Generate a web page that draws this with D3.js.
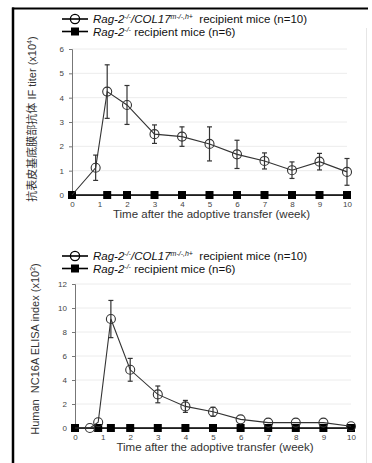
<!DOCTYPE html>
<html>
<head>
<meta charset="utf-8">
<script src="https://cdn.jsdelivr.net/npm/d3@7"></script>
<style>
  body { margin: 0; background: #fff; }
  svg { display: block; font-family: "Liberation Sans", Arial, "Noto Sans CJK SC", sans-serif; }
</style>
</head>
<body>
<script>
// ---- data: panel 1 (IF titer) ----
const weeksA = [0, 0.86, 1.28, 2, 3, 4, 5, 6, 7, 8, 9, 10];
const col17Titer = [0, 1.12, 4.25, 3.7, 2.5, 2.4, 2.1, 1.67, 1.4, 1.02, 1.37, 0.95];
const col17TiterErr = [0, 0.52, 1.1, 0.8, 0.38, 0.4, 0.7, 0.58, 0.33, 0.34, 0.34, 0.55];
const ragWeeksA = [0, 1.28, 2, 3, 4, 5, 6, 7, 8, 9, 10];
const ragTiter = [0, 0, 0, 0, 0, 0, 0, 0, 0, 0, 0];

// ---- data: panel 2 (ELISA index) ----
const weeksB = [0, 0.54, 0.84, 1.3, 2, 3, 4, 5, 6, 7, 8, 9, 10];
const col17Elisa = [0, 0, 0.48, 9.08, 4.85, 2.8, 1.8, 1.35, 0.72, 0.45, 0.45, 0.45, 0.15];
const col17ElisaErr = [0, 0, 0, 1.55, 0.95, 0.7, 0.5, 0.38, 0, 0, 0, 0, 0];
const ragWeeksB = [0, 0.84, 1.3, 2, 3, 4, 5, 6, 7, 8, 9, 10];
const ragElisa = [0, 0, 0, 0, 0, 0, 0, 0, 0, 0, 0, 0];

const xTicks = [0, 1, 2, 3, 4, 5, 6, 7, 8, 9, 10];
const yTicksA = [0, 1, 2, 3, 4, 5, 6];
const yTicksB = [0, 2, 4, 6, 8, 10, 12];
const xTitle = "Time after the adoptive transfer (week)";

const W = 372, H = 463;
const svg = d3.select("body").append("svg").attr("width", W).attr("height", H);

// outer frame
svg.append("line").attr("x1", 12).attr("x2", 368).attr("y1", 8.5).attr("y2", 8.5)
  .attr("stroke", "#000").attr("stroke-width", 2);
svg.append("line").attr("x1", 13).attr("x2", 13).attr("y1", 7.5).attr("y2", H)
  .attr("stroke", "#000").attr("stroke-width", 2.5);
svg.append("line").attr("x1", 366.5).attr("x2", 366.5).attr("y1", 28).attr("y2", H)
  .attr("stroke", "#e6e6e6").attr("stroke-width", 1);

function legend(y0, n1, n2) {
  const g = svg.append("g");
  const rows = [
    { y: y0, sym: "circle", n: n1, col17: true },
    { y: y0 + 12.5, sym: "square", n: n2, col17: false }
  ];
  rows.forEach(r => {
    g.append("line").attr("x1", 62).attr("x2", 88).attr("y1", r.y).attr("y2", r.y)
      .attr("stroke", "#000").attr("stroke-width", 1.6);
    if (r.sym === "circle") {
      g.append("circle").attr("cx", 75).attr("cy", r.y).attr("r", 4.6)
        .attr("fill", "none").attr("stroke", "#000").attr("stroke-width", 1.3);
    } else {
      g.append("rect").attr("x", 71).attr("y", r.y - 4).attr("width", 8).attr("height", 8)
        .attr("fill", "#000");
    }
    const t = g.append("text").attr("x", 93).attr("y", r.y + 4)
      .attr("font-size", 11.5).attr("fill", "#111");
    t.append("tspan").attr("font-style", "italic").text("Rag-2");
    t.append("tspan").attr("font-style", "italic").attr("font-size", 7).attr("dy", -4).text("-/-");
    if (r.col17) {
      t.append("tspan").attr("font-style", "italic").attr("dy", 4).text("/COL17");
      t.append("tspan").attr("font-style", "italic").attr("font-size", 7).attr("dy", -4).text("m-/-,h+");
      t.append("tspan").attr("dy", 4).text("\u00a0 recipient mice (n=" + r.n + ")");
    } else {
      t.append("tspan").attr("dy", 4).text(" recipient mice (n=" + r.n + ")");
    }
  });
}

function panel(cfg) {
  const x = d3.scaleLinear().domain([0, 10]).range(cfg.xr);
  const y = d3.scaleLinear().domain(cfg.yd).range(cfg.yr);
  const g = svg.append("g");

  // gridlines
  g.selectAll(".grid").data(cfg.yTicks.slice(1)).join("line")
    .attr("x1", cfg.xr[0]).attr("x2", cfg.xr[1])
    .attr("y1", d => y(d)).attr("y2", d => y(d))
    .attr("stroke", "#ececec").attr("stroke-width", 1);

  // y axis
  const ya = g.append("g").attr("transform", `translate(${cfg.xr[0]},0)`)
    .call(d3.axisLeft(y).tickValues(cfg.yTicks).tickFormat(d3.format("d")).tickSize(3).tickPadding(5));
  ya.select(".domain").attr("stroke", "#777");
  ya.selectAll(".tick line").attr("stroke", "#777");
  ya.selectAll("text").attr("font-size", 8).attr("fill", "#444")
    .attr("font-family", "Liberation Sans, Arial, sans-serif");

  // x axis labels
  const xa = g.append("g").attr("transform", `translate(0,${cfg.yr[0]})`)
    .call(d3.axisBottom(x).tickValues(xTicks).tickFormat(d3.format("d")).tickSize(0).tickPadding(6));
  xa.select(".domain").attr("stroke", "#777");
  xa.selectAll("text").attr("font-size", 8).attr("fill", "#444")
    .attr("font-family", "Liberation Sans, Arial, sans-serif");

  // axis titles
  g.append("text").attr("x", (cfg.xr[0] + cfg.xr[1]) / 2 + 2).attr("y", cfg.yr[0] + 23)
    .attr("text-anchor", "middle").attr("font-size", 11.5).attr("fill", "#333").text(xTitle);
  const yt = g.append("text")
    .attr("transform", `translate(${cfg.ytx},${cfg.ytY}) rotate(-90)`)
    .attr("text-anchor", "middle").attr("font-size", 11).attr("fill", "#333");
  cfg.yTitle(yt);

  // Rag-2 series (squares)
  const rag = cfg.ragW.map((w, i) => [w, cfg.ragV[i]]);
  g.append("path").datum(rag)
    .attr("d", d3.line().x(d => x(d[0])).y(d => y(d[1])))
    .attr("fill", "none").attr("stroke", "#000").attr("stroke-width", 1.3);
  g.selectAll(".sq").data(rag).join("rect")
    .attr("x", d => x(d[0]) - 4).attr("y", d => y(d[1]) - 4)
    .attr("width", 8).attr("height", 8).attr("fill", "#000");

  // COL17 series (open circles + error bars)
  const col = cfg.colW.map((w, i) => ({ w, v: cfg.colV[i], e: cfg.colE[i] }));
  g.selectAll(".eb").data(col.filter(d => d.e > 0)).join("g").each(function (d) {
    const s = d3.select(this), cx = x(d.w);
    s.append("line").attr("x1", cx).attr("x2", cx).attr("y1", y(d.v + d.e)).attr("y2", y(d.v - d.e))
      .attr("stroke", "#333").attr("stroke-width", 1.2);
    [d.v + d.e, d.v - d.e].forEach(v => s.append("line")
      .attr("x1", cx - 2.5).attr("x2", cx + 2.5).attr("y1", y(v)).attr("y2", y(v))
      .attr("stroke", "#333").attr("stroke-width", 1.2));
  });
  g.append("path").datum(col)
    .attr("d", d3.line().x(d => x(d.w)).y(d => y(d.v)))
    .attr("fill", "none").attr("stroke", "#333").attr("stroke-width", 1.1);
  g.selectAll(".ci").data(col.slice(1)).join("circle")
    .attr("cx", d => x(d.w)).attr("cy", d => y(d.v)).attr("r", 4.5)
    .attr("fill", "none").attr("stroke", "#333").attr("stroke-width", 1.1);
}

legend(19, 10, 6);
panel({
  xr: [72, 347], yd: [0, 6], yr: [195, 49], yTicks: yTicksA,
  ragW: ragWeeksA, ragV: ragTiter, colW: weeksA, colV: col17Titer, colE: col17TiterErr,
  ytx: 36, ytY: 119,
  yTitle: t => {
    t.append("tspan").text("抗表皮基底膜部抗体 IF titer (x10");
    t.append("tspan").attr("font-size", 7).attr("dy", -4).text("4");
    t.append("tspan").attr("dy", 4).text(")");
  }
});

legend(256, 10, 6);
panel({
  xr: [75, 351], yd: [0, 12], yr: [428, 284], yTicks: yTicksB,
  ragW: ragWeeksB, ragV: ragElisa, colW: weeksB, colV: col17Elisa, colE: col17ElisaErr,
  ytx: 39, ytY: 349,
  yTitle: t => {
    t.append("tspan").text("Human\u00a0 NC16A ELISA index (x10");
    t.append("tspan").attr("font-size", 7).attr("dy", -4).text("2");
    t.append("tspan").attr("dy", 4).text(")");
  }
});
</script>
</body>
</html>
